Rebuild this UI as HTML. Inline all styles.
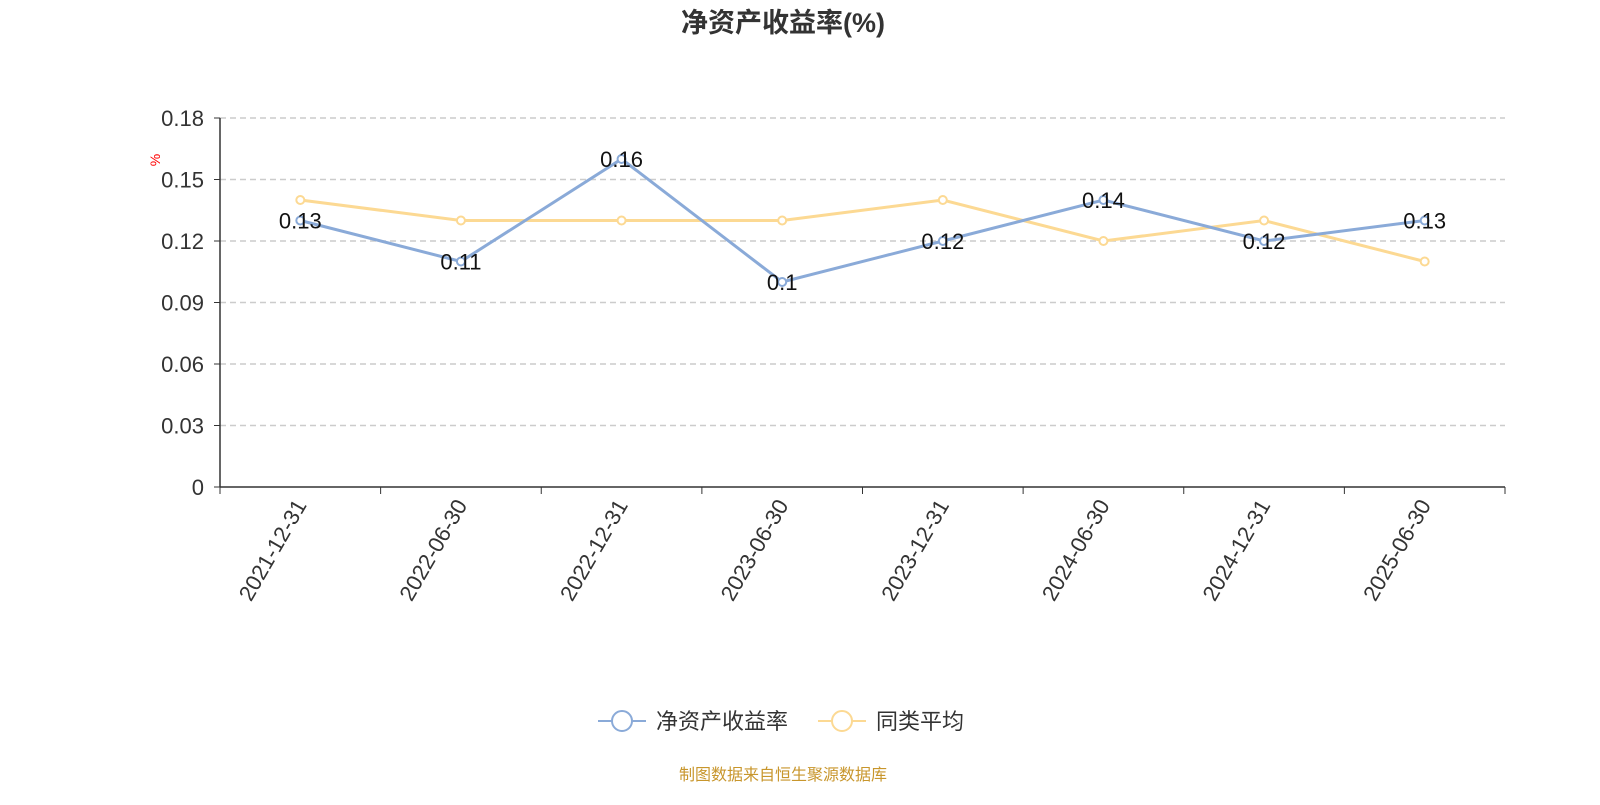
<!DOCTYPE html>
<html><head><meta charset="utf-8"><style>
body{margin:0;background:#fff;width:1600px;height:800px;overflow:hidden;font-family:"Liberation Sans","Noto Sans CJK SC",sans-serif;}
</style></head><body>
<svg id="chart" width="1600" height="800" xmlns="http://www.w3.org/2000/svg" style="font-family:'Liberation Sans','Noto Sans CJK SC',sans-serif">
<text x="783" y="32" text-anchor="middle" font-size="27" font-weight="bold" fill="#333">净资产收益率(%)</text>
<text x="160" y="160" font-size="14" fill="red" transform="rotate(-90 160 160)" text-anchor="middle">%</text>
<g id="grid"></g><g id="axes"></g><g id="series"></g>
<g>
<g><line x1="598" y1="721" x2="646" y2="721" stroke="#8aaad8" stroke-width="2"/><circle cx="622" cy="721" r="10" fill="#fff" stroke="#8aaad8" stroke-width="2"/><text x="656" y="729" font-size="22" fill="#333">净资产收益率</text></g>
<g><line x1="818" y1="721" x2="866" y2="721" stroke="#fcd993" stroke-width="2"/><circle cx="842" cy="721" r="10" fill="#fff" stroke="#fcd993" stroke-width="2"/><text x="876" y="729" font-size="22" fill="#333">同类平均</text></g>
</g>
<text x="783" y="780" text-anchor="middle" font-size="16" fill="#c8962c">制图数据来自恒生聚源数据库</text>
</svg>
<script>
const categories=["2021-12-31","2022-06-30","2022-12-31","2023-06-30","2023-12-31","2024-06-30","2024-12-31","2025-06-30"];
const roeValues=[0.13,0.11,0.16,0.10,0.12,0.14,0.12,0.13];
const roeLabels=["0.13","0.11","0.16","0.1","0.12","0.14","0.12","0.13"];
const avgValues=[0.14,0.13,0.13,0.13,0.14,0.12,0.13,0.11];
const yTicks=[0,0.03,0.06,0.09,0.12,0.15,0.18];
const yTickLabels=["0","0.03","0.06","0.09","0.12","0.15","0.18"];
const NS="http://www.w3.org/2000/svg";
const L=220,R=1505,T=118,B=487,yMax=0.18;
const bw=(R-L)/categories.length;
const xS=i=>L+bw*(i+0.5);
const yS=v=>B-(v/yMax)*(B-T);
function mk(tag,attrs,parent){const e=document.createElementNS(NS,tag);for(const k in attrs)e.setAttribute(k,attrs[k]);parent.appendChild(e);return e;}
const grid=document.getElementById('grid'),axes=document.getElementById('axes'),ser=document.getElementById('series');
yTicks.forEach((v,i)=>{
  const y=yS(v);
  if(v>0){const g=mk('line',{x1:L,x2:R,y1:y,y2:y,stroke:'#ccc','stroke-dasharray':'6,4','stroke-width':1.5},grid);
  
  }
  const tk=mk('line',{x1:L-6,x2:L,y1:y,y2:y,stroke:'#333'},axes);
  
  
  const t=mk('text',{x:L-16,y:y+8,'text-anchor':'end','font-size':22,fill:'#333'},axes);t.textContent=yTickLabels[i];
  
  
});
const ya=mk('line',{x1:L,x2:L,y1:T,y2:B,stroke:'#333','stroke-width':1.5},axes);


const xa=mk('line',{x1:L,x2:R,y1:B,y2:B,stroke:'#333','stroke-width':1.5},axes);


for(let i=0;i<=categories.length;i++){const x=L+bw*i;const tk=mk('line',{x1:x,x2:x,y1:B,y2:B+7,stroke:'#333'},axes);
  
  }
categories.forEach((c,i)=>{
  const x=xS(i),y=B+14;
  const t=mk('text',{x:x,y:y+8,'text-anchor':'end','font-size':22,fill:'#333',transform:`rotate(-60 ${x} ${y})`},axes);t.textContent=c;
  
  
});
function drawSeries(vals,color,name){
  const p=mk('polyline',{points:vals.map((v,i)=>xS(i)+','+yS(v)).join(' '),fill:'none',stroke:color,'stroke-width':3},ser);
  
  
  vals.forEach((v,i)=>{const c=mk('circle',{cx:xS(i),cy:yS(v),r:4,fill:'#fff',stroke:color,'stroke-width':2},ser);
    
    });
}
drawSeries(avgValues,'#fcd993','peer-average');
drawSeries(roeValues,'#8aaad8','roe');
roeValues.forEach((v,i)=>{const t=mk('text',{x:xS(i),y:yS(v)+8,'text-anchor':'middle','font-size':22,fill:'#111'},ser);t.textContent=roeLabels[i];
  
  });
</script>
</body></html>
